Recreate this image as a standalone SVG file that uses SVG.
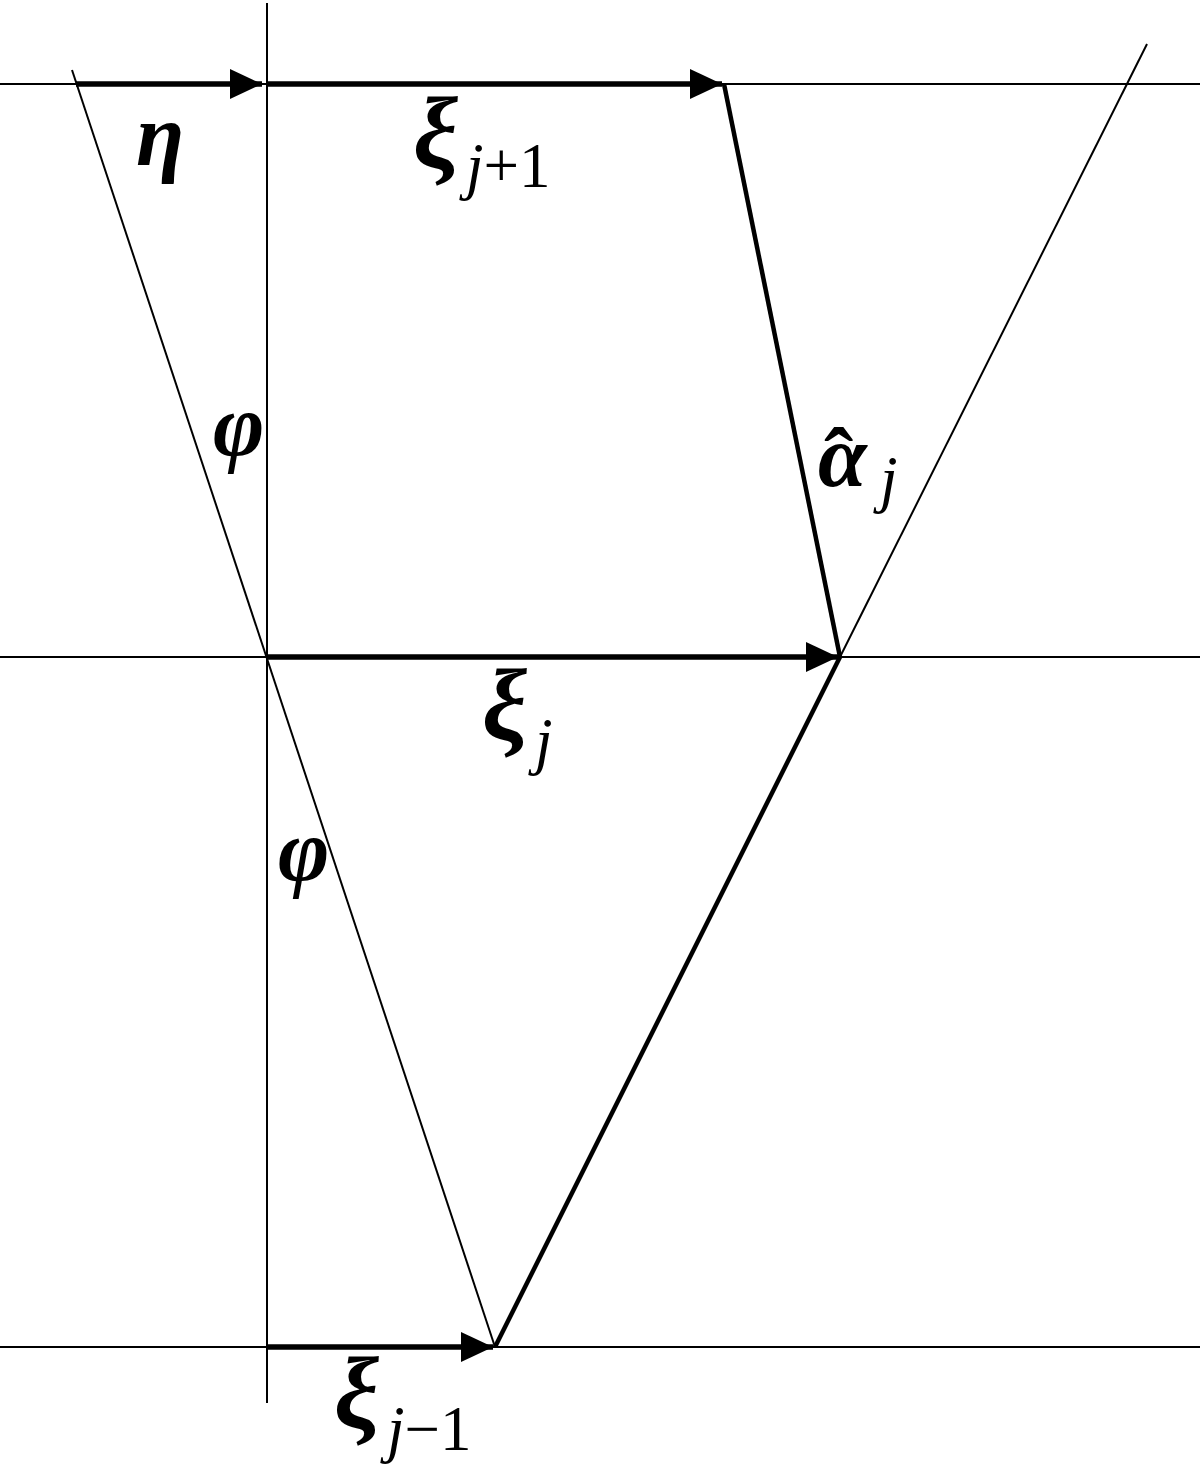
<svg xmlns="http://www.w3.org/2000/svg" width="1200" height="1475" viewBox="0 0 1200 1475">
<style>
.thin{stroke:#000;stroke-width:2;fill:none}
.thick{stroke:#000;stroke-width:4.5;fill:none}
.vec{stroke:#000;stroke-width:5.5;fill:none}
.g{font-family:"Liberation Serif","Times New Roman",serif;font-style:italic;font-weight:bold;font-size:88px}
.x{font-family:"Liberation Serif","Times New Roman",serif;font-style:italic;font-weight:bold;font-size:101px}
.s{font-family:"Liberation Serif","Times New Roman",serif;font-style:normal;font-weight:normal;font-size:63px}
.i{font-style:italic}
</style>
<defs>
<marker id="ah" markerUnits="userSpaceOnUse" markerWidth="34" markerHeight="34" refX="32" refY="15" orient="auto" viewBox="0 0 34 30">
<path d="M0,0 L32,15 L0,30 Z" fill="#000"/>
</marker>
</defs>
<rect width="1200" height="1475" fill="#fff"/>
<g id="connectors">
<line class="thin" x1="0" y1="84" x2="1200" y2="84"/>
<line class="thin" x1="0" y1="657" x2="1200" y2="657"/>
<line class="thin" x1="0" y1="1347" x2="1200" y2="1347"/>
<line class="thin" x1="267" y1="3" x2="267" y2="1403"/>
<line class="thin" x1="72" y1="70" x2="495" y2="1347"/>
<line class="thin" x1="1147" y1="44" x2="840" y2="657"/>
<line class="thick" x1="840" y1="657" x2="495" y2="1347"/>
<line class="thick" x1="724" y1="84" x2="840" y2="657"/>
<line class="vec" x1="76" y1="84" x2="262" y2="84" marker-end="url(#ah)"/>
<line class="vec" x1="267" y1="84" x2="722" y2="84" marker-end="url(#ah)"/>
<line class="vec" x1="267" y1="657" x2="838" y2="657" marker-end="url(#ah)"/>
<line class="vec" x1="267" y1="1347" x2="493" y2="1347" marker-end="url(#ah)"/>
</g>
<g id="label-eta"><text class="g" x="136" y="165">η</text></g>
<g id="label-xi-j1"><text class="x" x="413" y="167">ξ</text><text class="s" x="466" y="187"><tspan class="i">j</tspan>+1</text></g>
<g id="label-phi1"><text class="g" x="213" y="455">φ</text></g>
<g id="label-alpha"><text class="g" x="818" y="486">α<tspan x="824" y="490" font-style="normal">ˆ</tspan></text><text class="s i" x="880" y="500">j</text></g>
<g id="label-xi-j"><text class="x" x="482" y="739">ξ</text><text class="s i" x="535" y="762">j</text></g>
<g id="label-phi2"><text class="g" x="278" y="880">φ</text></g>
<g id="label-xi-jm1"><text class="x" x="334" y="1427">ξ</text><text class="s" x="387" y="1450"><tspan class="i">j</tspan>−1</text></g>
</svg>
